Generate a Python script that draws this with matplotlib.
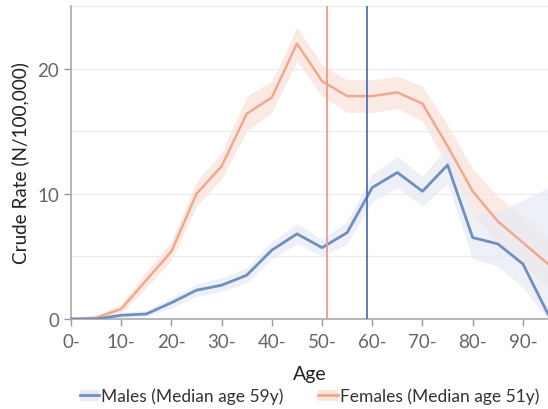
import matplotlib
matplotlib.use("Agg")
import matplotlib.pyplot as plt
from matplotlib.patches import Patch
from matplotlib.lines import Line2D

plt.rcParams["font.family"] = ["Lato", "DejaVu Sans"]

C_MALE = "#6f8fc0"
C_FEMALE = "#f0a890"
C_MALE_BAND = "#e6ebf4"
C_FEMALE_BAND = "#fbe5dc"
C_MALE_MED = "#4f74b3"
C_FEMALE_MED = "#f09a8c"

ages = [0, 5, 10, 15, 20, 25, 30, 35, 40, 45, 50, 55, 60, 65, 70, 75, 80, 85, 90, 95]

female = [0.0, 0.1, 0.8, 3.1, 5.4, 10.0, 12.2, 16.4, 17.7, 22.0, 19.0, 17.8, 17.8, 18.1, 17.2, 13.8, 10.2, 7.8, 6.1, 4.4]
female_lo = [0.0, 0.0, 0.5, 2.5, 4.7, 9.0, 11.2, 15.0, 16.5, 20.6, 17.8, 16.5, 16.5, 16.8, 15.8, 12.2, 8.5, 6.0, 4.2, 2.5]
female_hi = [0.1, 0.3, 1.2, 3.8, 6.2, 11.0, 13.3, 17.8, 19.0, 23.3, 20.3, 19.1, 19.1, 19.4, 18.6, 15.5, 12.0, 9.8, 8.2, 6.5]

male = [0.0, 0.0, 0.3, 0.4, 1.3, 2.3, 2.7, 3.5, 5.5, 6.8, 5.7, 6.9, 10.5, 11.7, 10.2, 12.3, 6.5, 6.0, 4.4, 0.4]
male_lo = [0.0, 0.0, 0.1, 0.2, 0.9, 1.8, 2.2, 2.9, 4.8, 6.0, 5.0, 6.0, 9.4, 10.5, 9.0, 10.8, 4.8, 4.2, 2.5, 0.0]
male_hi = [0.1, 0.1, 0.5, 0.7, 1.7, 2.8, 3.3, 4.1, 6.2, 7.6, 6.4, 7.8, 11.6, 13.0, 11.4, 13.8, 8.5, 8.5, 9.5, 10.5]

median_female = 51
median_male = 59

xticks = [0, 10, 20, 30, 40, 50, 60, 70, 80, 90]
xticklabels = ["0-", "10-", "20-", "30-", "40-", "50-", "60-", "70-", "80-", "90-"]

fig = plt.figure(figsize=(5.48, 4.10), dpi=100)
ax = fig.add_axes([0.1296, 0.2195, 0.8704, 0.7635])

for y in [5, 10, 15, 20, 25]:
    ax.axhline(y, color="#ececec", lw=0.9, zorder=0)

ax.fill_between(ages, female_lo, female_hi, color=C_FEMALE_BAND, lw=0, alpha=0.8, zorder=1)
ax.fill_between(ages, male_lo, male_hi, color=C_MALE_BAND, lw=0, alpha=0.7, zorder=2)
ax.plot(ages, female, color=C_FEMALE, lw=1.8, zorder=3)
ax.plot(ages, male, color=C_MALE, lw=2.0, zorder=4)

ax.axvline(median_female, color=C_FEMALE_MED, lw=1.3, zorder=5)
ax.axvline(median_male, color=C_MALE_MED, lw=1.3, zorder=5)

ax.set_xlim(0, 95)
ax.set_ylim(0, 25)
ax.set_xticks(xticks)
ax.set_xticklabels(xticklabels)
ax.set_yticks([0, 10, 20])
ax.tick_params(colors="#999999", labelcolor="#666666", labelsize=13.5, length=5, width=1)
ax.tick_params(axis="x", pad=5)
for s in ["top", "right"]:
    ax.spines[s].set_visible(False)
for s in ["left", "bottom"]:
    ax.spines[s].set_color("#aaaaaa")
    ax.spines[s].set_linewidth(1.2)

ax.set_xlabel("Age", fontsize=14, color="#222222", labelpad=11)
ax.set_ylabel("Crude Rate (N/100,000)", fontsize=13.6, color="#222222", labelpad=6)

handles = [
    (Patch(facecolor=C_MALE_BAND, edgecolor="none"), Line2D([], [], color=C_MALE, lw=2)),
    (Patch(facecolor=C_FEMALE_BAND, edgecolor="none"), Line2D([], [], color=C_FEMALE, lw=2)),
]
fig.legend(handles, ["Males (Median age 59y)", "Females (Median age 51y)"],
           loc="center", bbox_to_anchor=(0.565, 0.032), ncol=2, frameon=False,
           fontsize=12.5, handlelength=1.1, handleheight=0.6, handletextpad=0.15,
           columnspacing=2.0, labelcolor="#333333", borderpad=0.2)

fig.savefig("out.png", dpi=100, facecolor="white")
